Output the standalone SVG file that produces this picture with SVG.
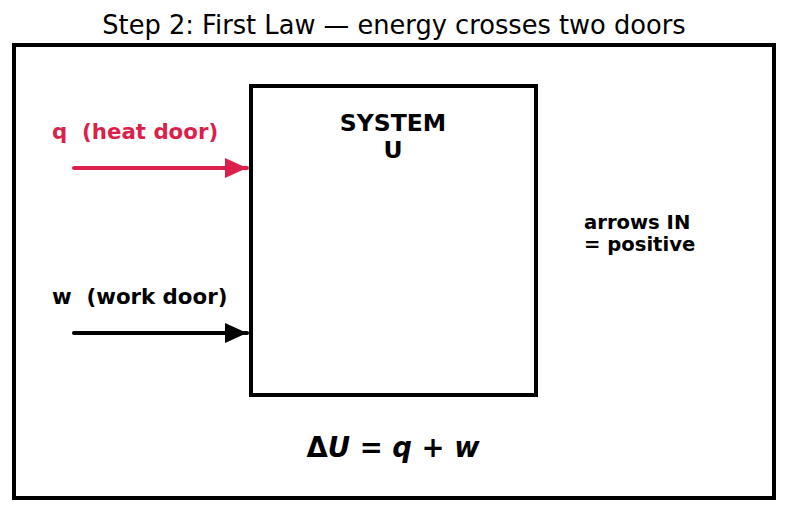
<svg xmlns="http://www.w3.org/2000/svg" width="787" height="512" viewBox="0 0 787 512">
<style>
.t{font-family:"DejaVu Sans",sans-serif;}
.b{font-family:"DejaVu Sans",sans-serif;font-weight:bold;}
.box{fill:none;stroke:#000;stroke-width:4;}
</style>
<defs>
<marker id="ahr" viewBox="0 0 10 10" refX="10" refY="5" markerWidth="22" markerHeight="22" markerUnits="userSpaceOnUse" orient="auto"><path d="M0,0.5 L10,5 L0,9.5 Z" fill="#DC1F4B"/></marker>
<marker id="ahk" viewBox="0 0 10 10" refX="10" refY="5" markerWidth="22" markerHeight="22" markerUnits="userSpaceOnUse" orient="auto"><path d="M0,0.5 L10,5 L0,9.5 Z" fill="#000"/></marker>
</defs>
<rect width="787" height="512" fill="#fff"/>
<text class="t" x="394" y="34" font-size="25.7" text-anchor="middle">Step 2: First Law — energy crosses two doors</text>
<g id="frame"><rect class="box" x="14" y="45" width="760" height="453"/></g>
<g id="system">
<rect class="box" x="251" y="86" width="285" height="309"/>
<text class="b" x="393" y="131" font-size="23.5" text-anchor="middle">SYSTEM</text>
<text class="b" x="393" y="158" font-size="23.5" text-anchor="middle">U</text>
</g>
<g id="heat-label"><text class="b" x="52" y="139" font-size="21.3" fill="#DC1F4B" xml:space="preserve">q  (heat door)</text></g>
<g id="work-label"><text class="b" x="52" y="304" font-size="21.3" xml:space="preserve">w  (work door)</text></g>
<g id="sign-note">
<text class="b" x="584" y="229" font-size="19.6">arrows IN</text>
<text class="b" x="584" y="251" font-size="19.6">= positive</text>
</g>
<g id="equation"><text class="b" x="393" y="457" font-size="27.5" text-anchor="middle">Δ<tspan font-style="italic">U</tspan> = <tspan font-style="italic">q</tspan> + <tspan font-style="italic">w</tspan></text></g>
<g id="connectors">
<line x1="74" y1="168" x2="247" y2="168" stroke="#DC1F4B" stroke-width="4" stroke-linecap="round" marker-end="url(#ahr)"/>
<line x1="74" y1="333" x2="247" y2="333" stroke="#000" stroke-width="4" stroke-linecap="round" marker-end="url(#ahk)"/>
</g>
</svg>
